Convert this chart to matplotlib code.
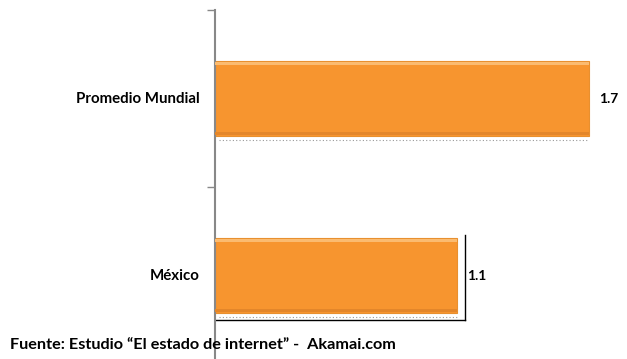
import matplotlib
matplotlib.use("Agg")
import matplotlib.pyplot as plt

categories = ['México', 'Promedio Mundial']
values = [1.1, 1.7]
value_labels = ['1.1', '1.7']
source = 'Fuente: Estudio \u201cEl estado de internet\u201d -  Akamai.com'

plt.rcParams['font.family'] = ['Lato', 'DejaVu Sans']

fig = plt.figure(figsize=(6.27, 3.59), dpi=100)
ax = fig.add_axes([0.343, -0.014, 0.667, 0.986])

pos = range(len(categories))
ax.barh(pos, values, height=0.42, color='#F7952F', edgecolor='#E8902F', linewidth=0.8, zorder=2)
for i, v in zip(pos, values):
    # light top rim
    ax.barh(i + 0.198, v, height=0.016, color='#FBBB70', linewidth=0, zorder=3)
    # darker bottom rim
    ax.barh(i - 0.198, v, height=0.016, color='#E3862A', linewidth=0, zorder=3)
    # dotted shadow
    ax.hlines(i - 0.235, 0.02, v, colors='#999999', linestyles=(0, (1, 2)), linewidth=0.8)

for i, v, lab in zip(pos, values, value_labels):
    ax.text(v + 0.045, i, lab, ha='left', va='center', fontsize=10, fontweight='bold')

# frame around the México label
ax.plot([values[0] + 0.036] * 2, [-0.25, 0.23], color='black', lw=1, zorder=1)
ax.plot([0, values[0] + 0.036], [-0.25, -0.25], color='black', lw=1, zorder=1)

ax.set_xlim(0, 1.9)
ax.set_ylim(-0.5, 1.5)
ax.set_yticks([-0.5, 0.5, 1.5])
ax.set_yticklabels([])
ax.tick_params(axis='y', length=6, width=1, color='#888888', direction='out')
for i, c in zip(pos, categories):
    ax.text(-0.07, i, c, ha='right', va='center', fontsize=10.8, fontweight='bold')
ax.set_xticks([])
for s in ['top', 'right', 'bottom']:
    ax.spines[s].set_visible(False)
ax.spines['left'].set_color('#888888')
ax.spines['left'].set_linewidth(1.5)

fig.text(10 / 627, 1 - 345 / 359, source, ha='left', va='center', fontsize=11.7, fontweight='bold')

fig.savefig('out.png', dpi=100)
